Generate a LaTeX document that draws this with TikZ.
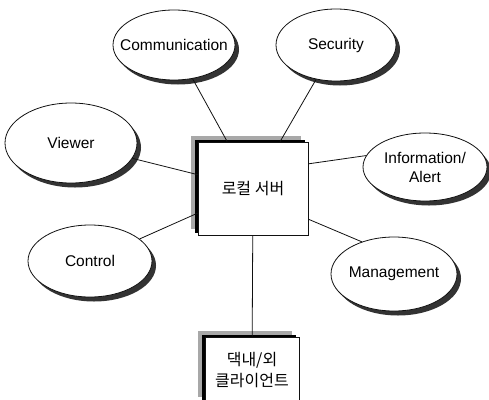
\documentclass[tikz,border=0pt]{standalone}
\usepackage{fontspec}
\setmainfont{Liberation Sans}
\newfontfamily\krfont{Noto Sans CJK KR}
\usepackage{xcolor}
\definecolor{cLine}{HTML}{111111}
\definecolor{cShade}{HTML}{333333}
\definecolor{cDots}{HTML}{A8A8A8}
\usetikzlibrary{shapes.geometric,shadows}
\tikzset{
  node-bubble/.style={draw=cLine,line width=0.8pt,ellipse,fill=white,inner sep=0pt,
    general shadow={shadow xshift=4pt,shadow yshift=-4.5pt,fill=cShade}},
  node-box/.style={draw=cLine,line width=0.8pt,rectangle,fill=white,inner sep=0pt,
    align=center,font=\krfont\fontsize{16}{21}\selectfont,
    general shadow={shadow xshift=-7pt,shadow yshift=6pt,fill=cDots},
    general shadow={shadow xshift=-3pt,shadow yshift=2.5pt,fill=black}},
  link/.style={draw=cLine,line width=0.8pt},
}

\begin{document}
\begin{tikzpicture}[x=1pt,y=-1pt,font=\fontsize{15.5}{19}\selectfont]
  \clip (0,0) rectangle (489,399);
  % outer services
  \node[node-bubble,minimum width=122,minimum height=70,label=center:Communication] (comm) at (174,45) {};
  \node[node-bubble,minimum width=120,minimum height=72,label=center:Security] (sec) at (336,45) {};
  \node[node-bubble,minimum width=132,minimum height=80,label=center:Viewer] (view) at (71,143) {};
  \node[node-bubble,minimum width=124,minimum height=72,label=center:Control] (ctrl) at (90,261) {};
  \node[node-bubble,minimum width=124,minimum height=68,
    label={[align=center]center:Information/\\Alert}] (info) at (425,167) {};
  \node[node-bubble,minimum width=126,minimum height=74,label=center:Management] (mgmt) at (394,274) {};
  % server and clients
  \node[node-box,minimum width=110,minimum height=93] (srv) at (253,188.5) {로컬 서버};
  \node[node-box,minimum width=94,minimum height=66] (client) at (252,370) {댁내/외\\클라이언트};
  \draw[link] (comm) -- (srv);
  \draw[link] (sec) -- (srv);
  \draw[link] (view) -- (srv);
  \draw[link] (ctrl) -- (srv);
  \draw[link] (srv.24) -- (info.169);
  \draw[link] (srv.-29) -- (mgmt.135);
  \draw[link] (srv) -- (client);
\end{tikzpicture}
\end{document}
